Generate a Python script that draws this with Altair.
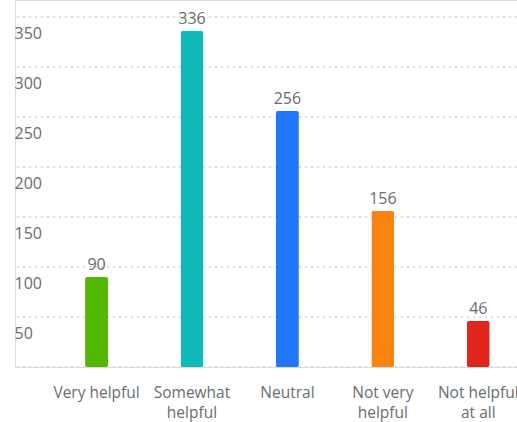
import altair as alt
import pandas as pd

categories = ["Very helpful", "Somewhat\nhelpful", "Neutral", "Not very\nhelpful", "Not helpful\nat all"]
values = [90, 336, 256, 156, 46]
colors = ["#55b800", "#0fbab8", "#2176fb", "#f8840f", "#e0251a"]
y_ticks = [0, 50, 100, 150, 200, 250, 300, 350]

df = pd.DataFrame({"category": categories, "value": values, "color": colors})
grid_df = pd.DataFrame({"tick": y_ticks})

FONT = "Open Sans"
GRAY = "#6a6d70"

x_axis = alt.Axis(
    title=None,
    ticks=False,
    domain=False,
    grid=False,
    labelAngle=0,
    labelPadding=18,
    labelFont=FONT,
    labelFontSize=15.5,
    labelColor=GRAY,
    labelLineHeight=20,
    labelLimit=200,
    labelExpr="split(datum.label, '\\n')",
)

y_axis = alt.Axis(
    title=None,
    values=y_ticks,
    ticks=False,
    tickSize=0,
    domain=False,
    grid=False,
    labelAlign="left",
    labelBaseline="middle",
    labelPadding=1,
    labelOffset=16,
    labelFont=FONT,
    labelFontSize=16,
    labelColor=GRAY,
    labelExpr="datum.value == 0 ? '' : datum.label",
)

x_scale = alt.Scale(paddingInner=0.76, paddingOuter=0.51, align=0.72)
y_scale = alt.Scale(domain=[0, 367], nice=False, zero=True)

grid = alt.Chart(grid_df).mark_rule(
    strokeDash=[2, 4], color="#d2d2d2", strokeWidth=1.5
).encode(
    y=alt.Y("tick:Q", scale=y_scale, axis=y_axis),
)

bars = alt.Chart(df).mark_bar(cornerRadius=2).encode(
    x=alt.X("category:N", sort=categories, scale=x_scale, axis=x_axis),
    y=alt.Y("value:Q", scale=y_scale, axis=y_axis),
    color=alt.Color("color:N", scale=None),
)

texts = alt.Chart(df).mark_text(
    baseline="bottom", dy=-4, font=FONT, fontSize=16, color=GRAY
).encode(
    x=alt.X("category:N", sort=categories, scale=x_scale, axis=x_axis),
    y=alt.Y("value:Q", scale=y_scale, axis=y_axis),
    text=alt.Text("value:Q"),
)

chart = (
    alt.layer(grid, bars, texts)
    .properties(
        width=502,
        height=367,
        autosize=alt.AutoSizeParams(type="none"),
        padding={"left": 15, "top": 0, "right": 0, "bottom": 55},
    )
    .configure_view(stroke="transparent", strokeOpacity=0, strokeWidth=0)
    .configure_axis(
        domain=False, ticks=False, grid=False,
        domainColor="transparent", domainOpacity=0,
        tickColor="transparent", gridColor="transparent",
    )
    .configure(background="white")
)

chart.save("out.html", embed_options={"renderer": "svg", "actions": False})
